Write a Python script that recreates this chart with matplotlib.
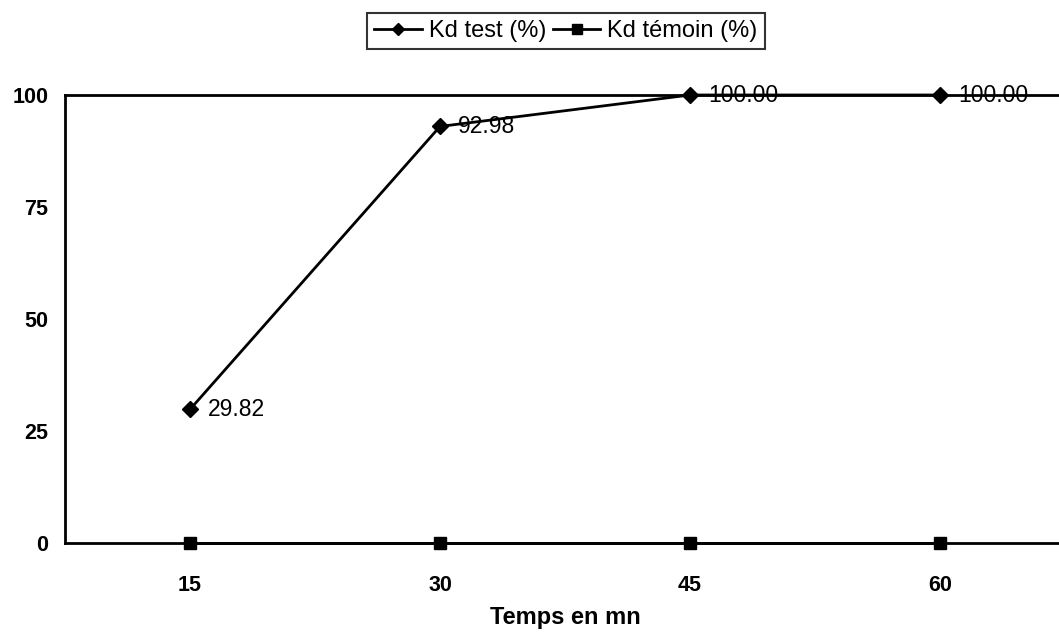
import matplotlib
matplotlib.use("Agg")
import matplotlib.pyplot as plt

times = [15, 30, 45, 60]
kd_test = [29.82, 92.98, 100.00, 100.00]
kd_temoin = [0, 0, 0, 0]
x_ticks = [15, 30, 45, 60]
y_ticks = [0, 25, 50, 75, 100]

plt.rcParams['font.family'] = ['Liberation Sans', 'DejaVu Sans']

fig = plt.figure(figsize=(10.59, 6.35), dpi=100)
ax = fig.add_axes([65/1059, 92/635, 1000/1059, 448/635])

l1, = ax.plot(times, kd_test, color='black', lw=2.0, marker='D', ms=8,
              label='Kd test (%)', clip_on=False, zorder=3)
l2, = ax.plot(times, kd_temoin, color='black', lw=2.0, marker='s', ms=9,
              label='Kd témoin (%)', clip_on=False, zorder=3)

for t, v in zip(times, kd_test):
    ax.annotate(f"{v:.2f}", (t, v), xytext=(13, 0), textcoords='offset points',
                ha='left', va='center', fontsize=16.5, color='black')

ax.set_xlim(7.5, 67.5)
ax.set_ylim(0, 100)
ax.set_xticks(x_ticks)
ax.set_yticks(y_ticks)
ax.tick_params(axis='both', length=0, labelsize=15.5)
ax.tick_params(axis='x', pad=23)
ax.tick_params(axis='y', pad=12)
for lab in ax.get_xticklabels() + ax.get_yticklabels():
    lab.set_fontweight('bold')
for s in ax.spines.values():
    s.set_linewidth(2.0)
    s.set_color('black')

ax.set_xlabel('Temps en mn', fontsize=17, fontweight='bold')
ax.xaxis.set_label_coords((565 - 65) / 1000, (543 - 606) / 448)

leg = fig.legend(handles=[l1, l2], loc='center', bbox_to_anchor=(566/1059, 1 - 31/635),
                 ncol=2, frameon=True, fancybox=False, edgecolor='black',
                 fontsize=17, handlelength=2.0, handletextpad=0.3, columnspacing=0.3,
                 borderpad=0.3, markerscale=0.75)
leg.get_frame().set_linewidth(1.5)

fig.savefig('out.png', dpi=100)
